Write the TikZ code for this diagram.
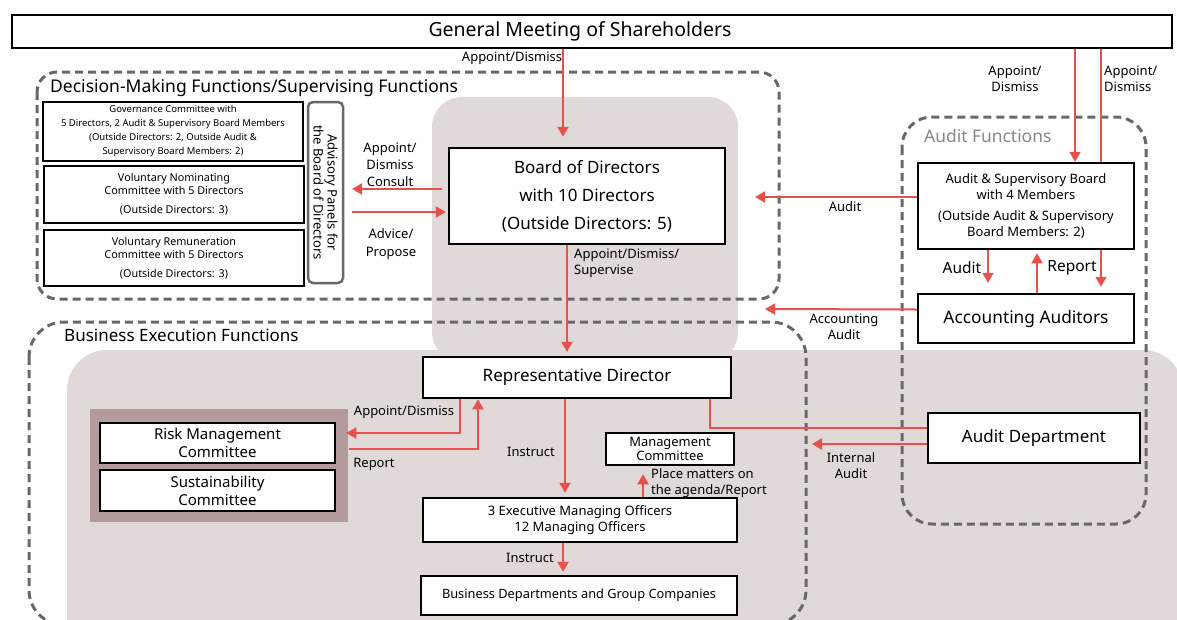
\documentclass[tikz,border=0pt]{standalone}
\usepackage{fontspec}
\setmainfont{Noto Sans}
\usetikzlibrary{arrows.meta,positioning,calc}
\definecolor{arrowred}{HTML}{E8504C}
\definecolor{dashgray}{HTML}{6B6767}
\definecolor{bgshade}{HTML}{E1D8D8}
\definecolor{mauve}{HTML}{B49B9B}
\definecolor{labelgray}{HTML}{8A8686}

\tikzset{
  box/.style={draw=black, line width=2.5pt, fill=white, inner sep=0pt, align=center},
  region/.style={draw=dashgray, line width=3pt, dash pattern=on 8pt off 5pt, rounded corners=#1},
  region/.default=20pt,
  lbl/.style={inner sep=0pt, align=center, font=\fontsize{13}{16}\selectfont},
  redarrow/.style={draw=arrowred, line width=2pt, -{Triangle[length=10pt,width=11pt]}},
  redline/.style={draw=arrowred, line width=2pt},
}

\begin{document}
\begin{tikzpicture}[x=1pt, y=-1pt]
  \useasboundingbox (0,0) rectangle (1177,619);
  \clip (0,0) rectangle (1177,619);

  \fill[bgshade, rounded corners=40pt] (67,350) rectangle (1183,660);
  \fill[bgshade, rounded corners=30pt] (432,97) rectangle (738,362);
  \fill[mauve] (90,409) rectangle (348,522);

  \draw[region] (37,72) rectangle (779,299);
  \draw[region=35pt] (29,322) rectangle (806,625);
  \draw[region=30pt] (902,117) rectangle (1146,524);

  \node[anchor=west, inner sep=0pt, font=\fontsize{17.5}{20}\selectfont] (dmtitle) at (50,88) {Decision-Making Functions/Supervising Functions};
  \node[anchor=west, inner sep=0pt, font=\fontsize{17}{20}\selectfont] (bxtitle) at (64,335) {Business Execution Functions};
  \node[anchor=west, inner sep=0pt, text=labelgray, font=\fontsize{17.4}{20}\selectfont] (aftitle) at (924,136) {Audit Functions};

  \node[box, line width=2pt, minimum width=1160pt, minimum height=33pt, font=\fontsize{19.5}{22}\selectfont] (gm) at (592,31.5) {\hspace*{-24pt}General Meeting of Shareholders};

  \node[box, line width=2pt, minimum width=260pt, minimum height=59pt, font=\fontsize{9.5}{14}\selectfont] (gov) at (173,131.5)
    {Governance Committee with\\5 Directors, 2 Audit \& Supervisory Board Members\\(Outside Directors: 2, Outside Audit \&\\Supervisory Board Members: 2)};
  \node[box, minimum width=260pt, minimum height=57pt, font=\fontsize{10.8}{13}\selectfont] (nom) at (174,194.5)
    {Voluntary Nominating\\Committee with 5 Directors\\[6pt](Outside Directors: 3)};
  \node[box, minimum width=260pt, minimum height=56pt, font=\fontsize{10.8}{13}\selectfont] (rem) at (174,258)
    {Voluntary Remuneration\\Committee with 5 Directors\\[6pt](Outside Directors: 3)};
  \node[box, draw=dashgray, rounded corners=5pt, rotate=-90, minimum width=181pt, minimum height=35pt, font=\fontsize{13}{14}\selectfont] (adv) at (325.5,192.5)
    {Advisory Panels for\\the Board of Directors};

  \node[box, minimum width=276pt, minimum height=96pt, font=\fontsize{17}{28}\selectfont] (bod) at (587,196)
    {Board of Directors\\with 10 Directors\\(Outside Directors: 5)};
  \node[box, minimum width=216pt, minimum height=86pt, font=\fontsize{13}{15.5}\selectfont] (asb) at (1026,206)
    {Audit \& Supervisory Board\\with 4 Members\\[6pt](Outside Audit \& Supervisory\\Board Members: 2)};
  \node[box, minimum width=216pt, minimum height=49pt, font=\fontsize{17.3}{20}\selectfont] (acc) at (1026,318.5) {Accounting Auditors};
  \node[box, minimum width=308pt, minimum height=41pt, font=\fontsize{17}{20}\selectfont] (rep) at (577,377.5) {Representative Director};
  \node[box, minimum width=212pt, minimum height=50pt, font=\fontsize{17}{20}\selectfont] (aud) at (1034,438) {Audit Department};
  \node[box, minimum width=235pt, minimum height=40pt, font=\fontsize{15}{18}\selectfont] (risk) at (217.5,443) {Risk Management\\Committee};
  \node[box, minimum width=235pt, minimum height=41pt, font=\fontsize{15}{18}\selectfont] (sus) at (217.5,490.5) {Sustainability\\Committee};
  \node[box, minimum width=128pt, minimum height=32pt, font=\fontsize{12.9}{14.5}\selectfont] (mgmt) at (670,449) {Management\\Committee};
  \node[box, minimum width=314pt, minimum height=44pt, font=\fontsize{13}{15.5}\selectfont] (exec) at (580,520) {3 Executive Managing Officers\\12 Managing Officers};
  \node[box, minimum width=316pt, minimum height=39pt, font=\fontsize{12.8}{15}\selectfont] (biz) at (579,595.5) {Business Departments and Group Companies};

  \coordinate (bodin) at ([xshift=-24pt]bod.north);
  \coordinate (bodout) at ([xshift=-20pt]bod.south);
  \coordinate (asbin) at ([xshift=49pt]asb.north);
  \coordinate (accin) at ([xshift=75pt]acc.north);
  \coordinate (advin) at (352,189);
  \coordinate (advout) at (352,212);
  \coordinate (auditend) at (755,197);
  \coordinate (accauditend) at (765,309);
  \coordinate (iaend) at (812,444);

  \begin{scope}[redarrow]
    \draw[shorten >=10pt] (bodin |- gm.south) -- (bodin);
    \draw[shorten >=4pt] (bodout) -- (bodout |- rep.north);
    \draw (asbin |- gm.south) -- (asbin);
    \draw[redline, -] (accin |- gm.south) -- (accin |- asb.north);
    \draw[shorten >=6pt] (accin |- asb.south) -- (accin);
    \draw[shorten <=6pt] (bod.west |- advin) -- (advin);
    \draw[shorten >=2pt] (advout) -- (bod.west |- advout);
    \draw ([yshift=9pt]asb.west) -- (auditend);
    \draw[shorten >=10pt] ([xshift=-38pt]asb.south) -- ([xshift=-38pt]asb.south |- acc.north);
    \draw[shorten >=3pt] ([xshift=11pt]acc.north) -- ([xshift=11pt]acc.north |- asb.south);
    \draw ([yshift=9pt]acc.west) -- (accauditend);
    \draw ([yshift=-6pt]aud.west) -- (iaend);
    \draw[redline, -] ([yshift=10pt]aud.west) -| ([xshift=133pt]rep.south);
    \draw ([xshift=-117pt]rep.south) |- ([xshift=10pt, yshift=10pt]risk.east);
    \draw ([xshift=13pt, yshift=-6pt]risk.east) -| ([xshift=-99pt]rep.south);
    \draw[shorten >=4pt] ([xshift=-12pt]rep.south) -- ([xshift=-12pt]rep.south |- exec.north);
    \draw[shorten >=8pt] ([xshift=63pt]exec.north) -- ([xshift=63pt]exec.north |- mgmt.south);
    \draw[shorten >=3pt] ([xshift=-17pt]exec.south) -- ([xshift=-17pt]exec.south |- biz.north);
  \end{scope}

  \node[lbl] (lbgm) at (512,58) {Appoint/Dismiss};
  \node[lbl, font=\fontsize{13}{17}\selectfont] (lbconsult) at (390,165) {Appoint/\\Dismiss\\Consult};
  \node[lbl, font=\fontsize{13}{18}\selectfont] (lbadvice) at (391,244) {Advice/\\Propose};
  \node[lbl, anchor=west, align=left] (lbsuper) at (574,263) {Appoint/Dismiss/\\Supervise};
  \node[lbl] (lbasb) at (1015,79) {Appoint/\\Dismiss};
  \node[lbl, anchor=west, align=left] (lbacc) at (1104,79) {Appoint/\\Dismiss};
  \node[lbl] (lbaudit) at (845,207) {Audit};
  \node[lbl, font=\fontsize{15.5}{17}\selectfont] (lbaudit2) at (962,268) {Audit};
  \node[lbl, font=\fontsize{15.5}{17}\selectfont] (lbreport) at (1072,268) {Report};
  \node[lbl] (lbaccaudit) at (844,327) {Accounting\\Audit};
  \node[lbl] (lbinternal) at (851,466) {Internal\\Audit};
  \node[lbl] (lbrisk) at (404,412) {Appoint/Dismiss};
  \node[lbl] (lbriskrep) at (374,464) {Report};
  \node[lbl] (lbinstr) at (531,452) {Instruct};
  \node[lbl, anchor=west, align=left] (lbplace) at (651,483) {Place matters on\\the agenda/Report};
  \node[lbl] (lbinstr2) at (530,558) {Instruct};
\end{tikzpicture}
\end{document}
